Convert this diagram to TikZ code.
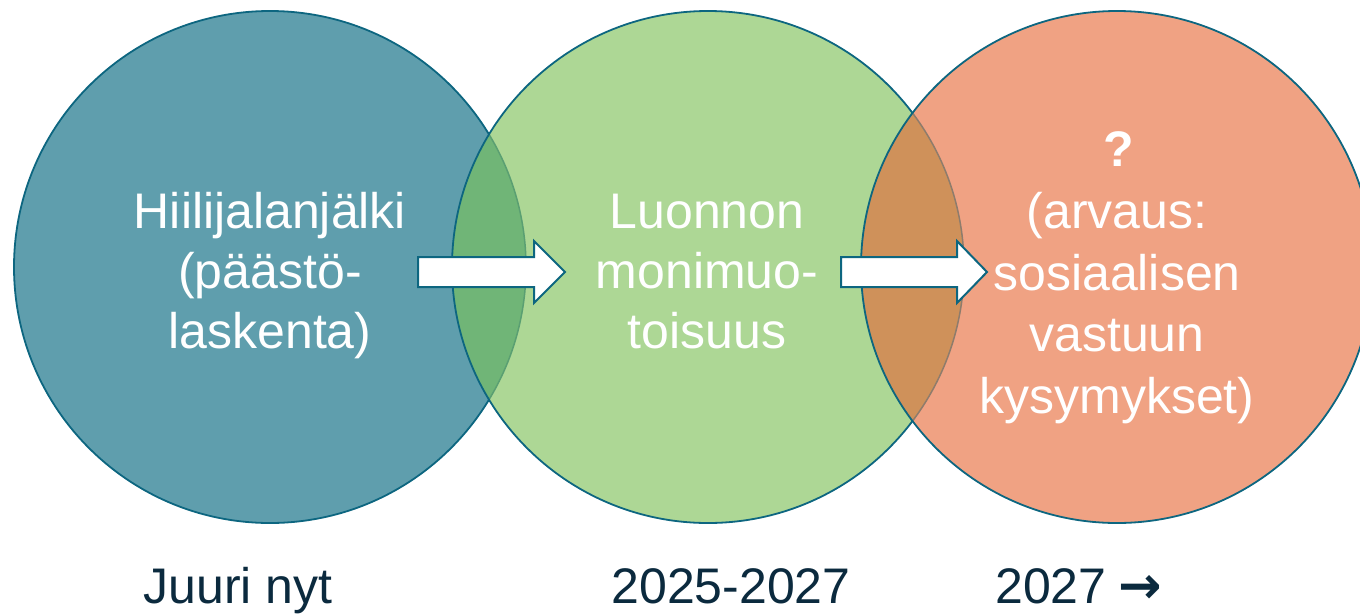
\documentclass[tikz,border=0pt]{standalone}
\usepackage{fontspec}
\setmainfont{Liberation Sans}
\newfontfamily\arrowfont{DejaVu Sans}
\definecolor{cone}{HTML}{5F9EAD}
\definecolor{ctwo}{HTML}{ADD795}
\definecolor{cthree}{HTML}{F0A283}
\definecolor{lensA}{HTML}{70B577}
\definecolor{lensB}{HTML}{CF915A}
\definecolor{edge}{HTML}{0D6680}
\definecolor{edgeA}{HTML}{5A9F72}
\definecolor{edgeB}{HTML}{8E7C6C}
\definecolor{navy}{HTML}{0B2A3E}
\tikzset{
  ring/.style={draw=edge, line width=1.8pt},
  blockarrow/.style={draw=edge, fill=white, line width=2pt, line join=miter},
  intext/.style={text=white, font=\fontsize{50}{60}\selectfont, anchor=base, inner sep=0pt},
  bottomtext/.style={text=navy, font=\fontsize{50}{60}\selectfont, anchor=base, inner sep=0pt}
}
\begin{document}
\begin{tikzpicture}[x=1pt,y=-1pt]
\useasboundingbox (0,0) rectangle (1360,614);
\clip (0,0) rectangle (1360,614);
\coordinate (C1) at (270,267);
\coordinate (C2) at (708,267);
\coordinate (C3) at (1117,267);
\def\R{256pt}
% circle 1
\fill[cone] (C1) circle[radius=\R];
\draw[ring] (C1) circle[radius=\R];
% circle 2
\fill[ctwo] (C2) circle[radius=\R];
\begin{scope}
  \clip (C1) circle[radius=\R];
  \fill[lensA] (C2) circle[radius=\R];
\end{scope}
\begin{scope}
  \clip (C2) circle[radius=\R];
  \draw[draw=edgeA, line width=1.5pt] (C1) circle[radius=\R];
\end{scope}
\draw[ring] (C2) circle[radius=\R];
% circle 3
\fill[cthree] (C3) circle[radius=\R];
\begin{scope}
  \clip (C2) circle[radius=\R];
  \fill[lensB] (C3) circle[radius=\R];
\end{scope}
\begin{scope}
  \clip (C3) circle[radius=\R];
  \draw[draw=edgeB, line width=1.5pt] (C2) circle[radius=\R];
\end{scope}
\draw[ring] (C3) circle[radius=\R];
% arrows
\draw[blockarrow] (418,257) -- (534,257) -- (534,241) -- (565,272) -- (534,303) -- (534,287) -- (418,287) -- cycle;
\draw[blockarrow] (841,257) -- (957,257) -- (957,241) -- (987,272) -- (957,303) -- (957,287) -- (841,287) -- cycle;
% texts circle 1
\node[intext] (a1) at (270,228) {Hiilijalanjälki};
\node[intext] (a2) at (270,288) {(päästö-};
\node[intext] (a3) at (270,348) {laskenta)};
% texts circle 2
\node[intext] (b1) at (707,228) {Luonnon};
\node[intext] (b2) at (707,288) {monimuo-};
\node[intext] (b3) at (707,348) {toisuus};
% texts circle 3
\node[intext, font=\fontsize{50}{60}\selectfont\bfseries] (q0) at (1119,166) {?};
\node[intext] (q1) at (1117,228) {(arvaus:};
\node[intext] (q2) at (1117,290) {sosiaalisen};
\node[intext] (q3) at (1117,351) {vastuun};
\node[intext] (q4) at (1117,413) {kysymykset)};
% bottom labels
\node[bottomtext] (l1) at (238,603) {Juuri nyt};
\node[bottomtext] (l2) at (731,603) {2025-2027};
\node[bottomtext, anchor=base west] (l3) at (995,603) {2027\hspace{12pt}{\arrowfont\bfseries\fontsize{52}{60}\selectfont →}};
\end{tikzpicture}
\end{document}
